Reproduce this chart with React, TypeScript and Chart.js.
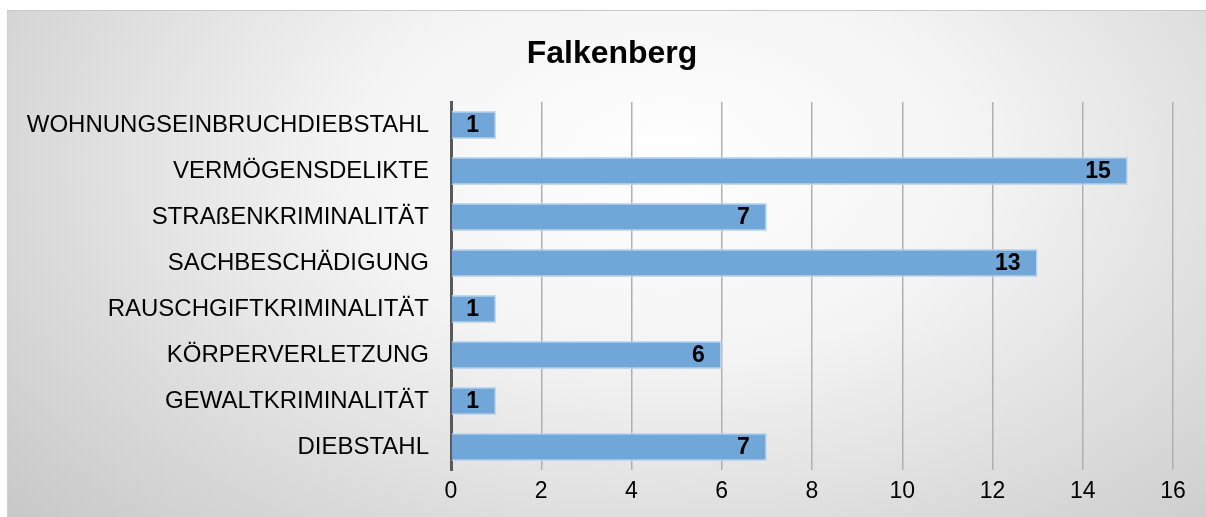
import React, { useEffect, useRef } from "react";
import { Chart, registerables } from "chart.js";

Chart.register(...registerables);

const categories = [
  "WOHNUNGSEINBRUCHDIEBSTAHL",
  "VERMÖGENSDELIKTE",
  "STRAßENKRIMINALITÄT",
  "SACHBESCHÄDIGUNG",
  "RAUSCHGIFTKRIMINALITÄT",
  "KÖRPERVERLETZUNG",
  "GEWALTKRIMINALITÄT",
  "DIEBSTAHL",
];
const values = [1, 15, 7, 13, 1, 6, 1, 7];
const titleText = "Falkenberg";
const xMin = 0;
const xMax = 16;
const xStep = 2;

const FONT = "'Liberation Sans', Arial, sans-serif";

const valueLabels = {
  id: "valueLabels",
  afterDatasetsDraw(chart: any) {
    const ctx = chart.ctx;
    const meta = chart.getDatasetMeta(0);
    ctx.save();
    ctx.font = `bold 23px ${FONT}`;
    ctx.fillStyle = "#000000";
    ctx.textAlign = "right";
    ctx.textBaseline = "middle";
    meta.data.forEach((bar: any, i: number) => {
      ctx.fillText(String(values[i]), bar.x - 17, bar.y + 1);
    });
    ctx.restore();
  },
};

const centeredTitle = {
  id: "centeredTitle",
  afterDraw(chart: any) {
    const ctx = chart.ctx;
    ctx.save();
    ctx.font = `bold 32px ${FONT}`;
    ctx.fillStyle = "#000000";
    ctx.textAlign = "center";
    ctx.textBaseline = "middle";
    ctx.fillText(titleText, 604, 43);
    ctx.restore();
  },
};

export default function App() {
  const ref = useRef<HTMLCanvasElement>(null);
  useEffect(() => {
    const chart = new Chart(ref.current!, {
      type: "bar",
      data: {
        labels: categories,
        datasets: [
          {
            data: values,
            backgroundColor: "rgb(112,166,216)",
            borderColor: "rgba(189,215,238,0.95)",
            borderWidth: 1.5,
            barPercentage: 0.61,
            categoryPercentage: 1,
          },
        ],
      },
      options: {
        indexAxis: "y",
        animation: false,
        responsive: false,
        maintainAspectRatio: false,
        layout: { padding: { top: 91, right: 33, bottom: 0, left: 0 } },
        plugins: {
          legend: { display: false },
          tooltip: { enabled: false },
          title: { display: false },
        },
        scales: {
          x: {
            min: xMin,
            max: xMax,
            ticks: {
              stepSize: xStep,
              color: "#000000",
              font: { family: FONT, size: 23 },
              padding: 8,
            },
            grid: {
              color: "#b0b0b0",
              lineWidth: 1.5,
              drawTicks: false,
            },
            border: { display: false },
            afterFit(s: any) {
              s.height = 47;
            },
          },
          y: {
            ticks: {
              color: "#000000",
              font: { family: FONT, size: 24 },
              padding: 22,
            },
            grid: { display: false, drawTicks: false },
            border: { display: true, color: "#595959", width: 3 },
            afterFit(s: any) {
              s.width = 443;
            },
          },
        },
      },
      plugins: [valueLabels, centeredTitle],
    });
    return () => chart.destroy();
  }, []);

  return (
    <div
      style={{
        position: "absolute",
        left: 7,
        top: 10,
        width: 1199,
        height: 507,
        boxSizing: "border-box",
        borderTop: "1px solid #c8c8c8",
        borderLeft: "1px solid #d0d0d0",
        background:
          "radial-gradient(ellipse 75% 110% at 55% 30%, #ffffff 0%, #f4f4f4 35%, #dedede 65%, #c6c6c6 100%)",
      }}
    >
      <canvas ref={ref} width={1198} height={506} style={{ display: "block" }} />
    </div>
  );
}
